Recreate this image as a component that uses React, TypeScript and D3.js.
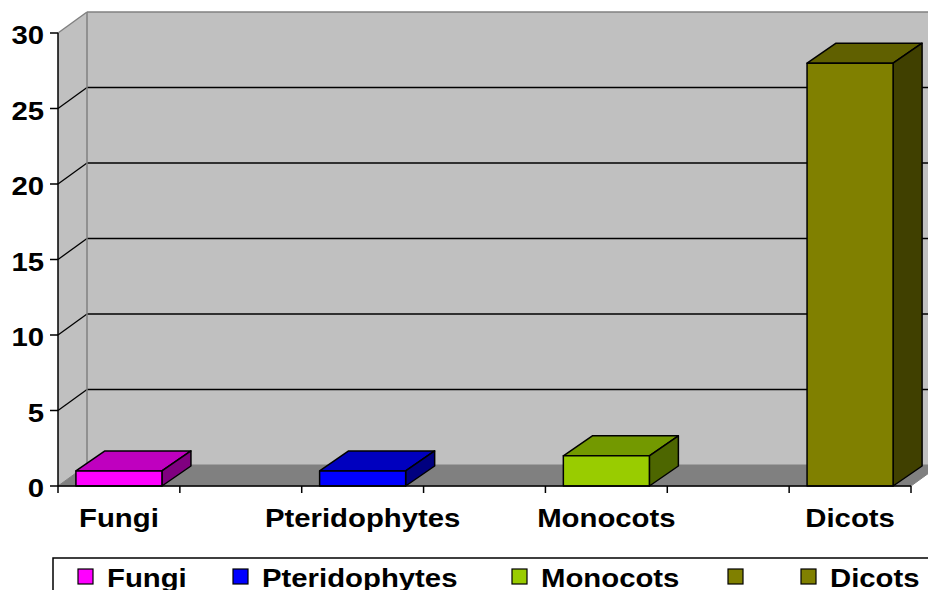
import React from "react";
import * as d3 from "d3";

const categories = ["Fungi", "", "Pteridophytes", "", "Monocots", "", "Dicots"];
const seriesNames = ["Fungi", "Pteridophytes", "Monocots", "", "Dicots"];
const seriesColors = ["#FF00FF", "#0000FF", "#99CC00", "#808000", "#808000"];
// bar values at category slots
const barCategories = ["Fungi", "Pteridophytes", "Monocots", "Dicots"];
const barValues = [1, 1, 2, 28];
const barColors = ["#FF00FF", "#0000FF", "#99CC00", "#808000"];
const yTicks = [0, 5, 10, 15, 20, 25, 30];

const W = 928;
const H = 590;
const X0 = 58;
const X1 = 911;
const Y0 = 486;
const Y30 = 33;
const DX = 29;
const DY = -21;
const FONT = "'Liberation Sans', Arial, Helvetica, sans-serif";
const SX = 1.15;
const FS = 25.5;

export default function App() {
  const x = d3.scaleBand<string>().domain(categories.map((c, i) => String(i))).range([X0, X1]).padding(0);
  const y = d3.scaleLinear().domain([0, 30]).range([Y0, Y30]);
  const step = x.step();
  const barW = step * 0.706;

  const shade = (c: string, k: number) => {
    const col = d3.rgb(c);
    return d3.rgb(col.r * k, col.g * k, col.b * k).formatHex();
  };

  const poly = (pts: [number, number][]) => pts.map((p) => p.join(",")).join(" ");

  const legendX = [78, 233, 512, 728, 801];

  return (
    <svg width={W} height={H} style={{ position: "absolute", left: 0, top: 0 }}>
      <rect x={0} y={0} width={W} height={H} fill="#ffffff" />
      {/* left wall */}
      <polygon points={poly([[X0, Y30], [X0 + DX, Y30 + DY], [X0 + DX, Y0 + DY], [X0, Y0]])} fill="#C0C0C0" />
      {/* back wall */}
      <polygon points={poly([[X0 + DX, Y30 + DY], [X1 + DX + 40, Y30 + DY], [X1 + DX + 40, Y0 + DY], [X0 + DX, Y0 + DY]])} fill="#C0C0C0" />
      {/* floor */}
      <polygon points={poly([[X0, Y0], [X0 + DX, Y0 + DY], [X1 + DX, Y0 + DY], [X1, Y0]])} fill="#808080" stroke="#808080" strokeWidth={1} />
      {/* gridlines */}
      {yTicks.filter((t) => t > 0 && t < 30).map((t) => (
        <g key={t}>
          <line x1={X0} y1={y(t)} x2={X0 + DX} y2={y(t) + DY} stroke="#000" strokeWidth={1.3} />
          <line x1={X0 + DX} y1={y(t) + DY} x2={W + 10} y2={y(t) + DY} stroke="#000" strokeWidth={1.3} />
        </g>
      ))}
      {/* wall edges */}
      <line x1={X0} y1={Y30} x2={X0 + DX} y2={Y30 + DY} stroke="#808080" strokeWidth={1.5} />
      <line x1={X0 + DX} y1={Y30 + DY} x2={W + 10} y2={Y30 + DY} stroke="#808080" strokeWidth={1.5} />
      <line x1={X0 + DX} y1={Y30 + DY} x2={X0 + DX} y2={Y0 + DY} stroke="#808080" strokeWidth={1.5} />
      {/* bars */}
      {barCategories.map((c, i) => {
        const idx = categories.indexOf(c);
        const bx = (x(String(idx)) as number) + (step - barW) / 2;
        const bx2 = bx + barW;
        const top = y(barValues[i]);
        const col = barColors[i];
        return (
          <g key={c} stroke="#000" strokeWidth={1.5} strokeLinejoin="round">
            <polygon points={poly([[bx, top], [bx + DX, top + DY + 1], [bx2 + DX, top + DY + 1], [bx2, top]])} fill={shade(col, 0.75)} />
            <polygon points={poly([[bx2, top], [bx2 + DX, top + DY + 1], [bx2 + DX, Y0 + DY + 1], [bx2, Y0]])} fill={shade(col, 0.5)} />
            <rect x={bx} y={top} width={barW} height={Y0 - top} fill={col} />
          </g>
        );
      })}
      {/* axes */}
      <line x1={X0} y1={Y30} x2={X0} y2={Y0} stroke="#000" strokeWidth={1.5} />
      <line x1={X0} y1={Y0} x2={X1} y2={Y0} stroke="#000" strokeWidth={1.5} />
      {yTicks.map((t) => (
        <g key={t}>
          <line x1={X0 - 8} y1={y(t)} x2={X0} y2={y(t)} stroke="#000" strokeWidth={1.5} />
          <text transform={`translate(${44},${y(t) + 11}) scale(${SX},1)`} textAnchor="end" fontFamily={FONT} fontWeight="bold" fontSize={FS} fill="#000">
            {t}
          </text>
        </g>
      ))}
      {d3.range(categories.length + 1).map((i) => (
        <line key={i} x1={X0 + i * step} y1={Y0} x2={X0 + i * step} y2={Y0 + 7} stroke="#000" strokeWidth={1.5} />
      ))}
      {categories.map((c, i) =>
        c ? (
          <text key={i} transform={`translate(${(x(String(i)) as number) + step / 2},${527}) scale(${SX},1)`} textAnchor="middle" fontFamily={FONT} fontWeight="bold" fontSize={FS} fill="#000">
            {c}
          </text>
        ) : null
      )}
      {/* legend */}
      <rect x={53} y={558} width={W} height={60} fill="#fff" stroke="#000" strokeWidth={1.5} />
      {seriesNames.map((s, i) => (
        <g key={i}>
          <rect x={legendX[i]} y={569} width={15} height={15} fill={seriesColors[i]} stroke="#000" strokeWidth={1.2} />
          {s ? (
            <text transform={`translate(${legendX[i] + 29},${587}) scale(${SX},1)`} fontFamily={FONT} fontWeight="bold" fontSize={FS} fill="#000">
              {s}
            </text>
          ) : null}
        </g>
      ))}
    </svg>
  );
}
